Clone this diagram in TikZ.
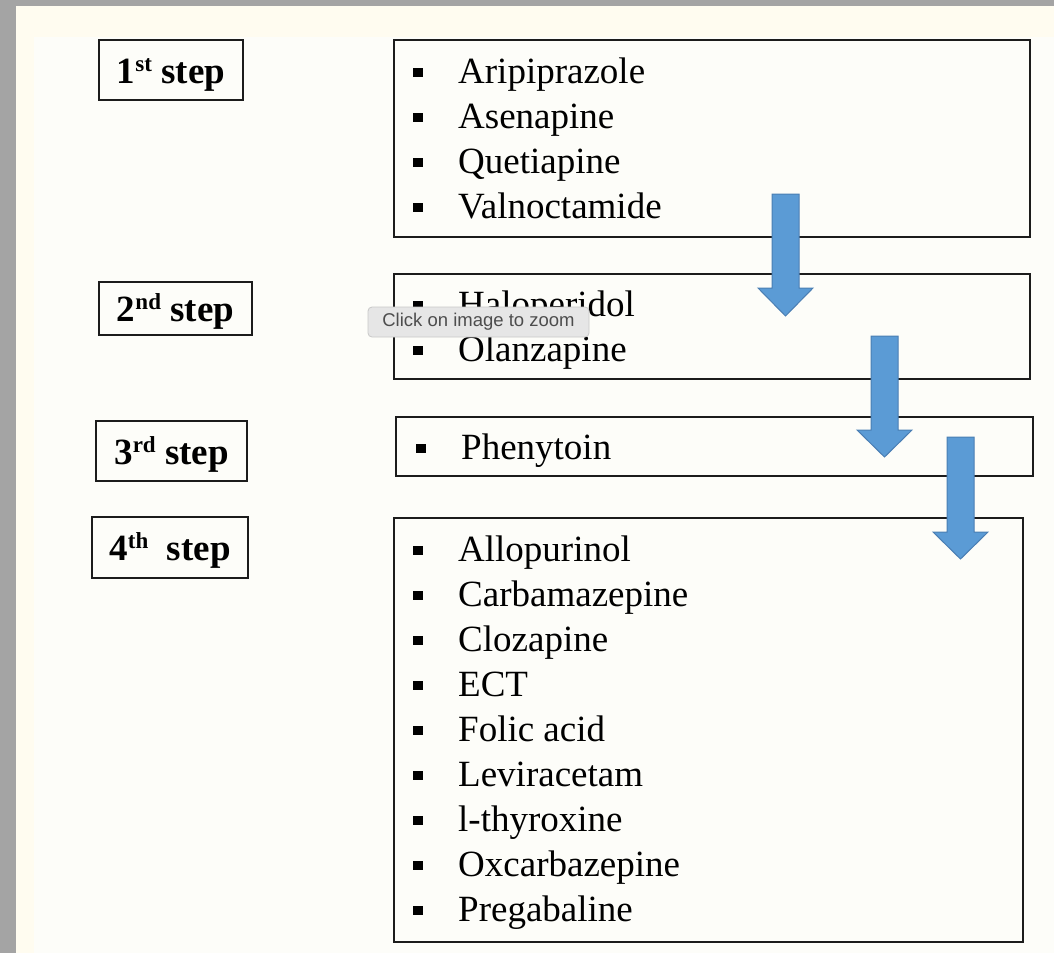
\documentclass[tikz,border=0pt]{standalone}
\usepackage{fontspec}
\setmainfont{Liberation Serif}
\newfontfamily\tipfont{Liberation Sans}

\definecolor{pagegray}{HTML}{A4A4A4}
\definecolor{pagecream}{HTML}{FFFCF0}
\definecolor{pagewhite}{HTML}{FDFDF9}
\definecolor{arrowblue}{HTML}{5B9BD5}
\definecolor{arrowedge}{HTML}{4A7EB3}
\definecolor{boxline}{HTML}{1C1C1C}
\definecolor{tipfill}{HTML}{E6E6E6}
\definecolor{tipline}{HTML}{C8C8C8}
\definecolor{tiptext}{HTML}{4D4D4D}

\newcommand{\ordsup}[1]{\raisebox{12pt}{\fontsize{23}{26}\selectfont #1}}
\newcommand{\bulletitem}[1]{\rlap{\rule[6pt]{10pt}{9pt}}\hspace{45pt}#1}

\tikzset{
  stepbox/.style={draw=boxline, line width=2.8pt, inner sep=0pt, text height=26pt, text depth=0pt,
    font=\fontsize{37}{42}\selectfont\bfseries},
  listbox/.style={draw=boxline, line width=2.8pt, inner sep=0pt},
  item/.style={anchor=base west, inner sep=0pt, font=\fontsize{37}{44}\selectfont},
  blockarrow/.style={fill=arrowblue, draw=arrowedge, line width=1pt, line join=miter},
  tooltip/.style={fill=tipfill, draw=tipline, line width=0.8pt, rounded corners=4pt,
    minimum width=221pt, minimum height=30pt, inner sep=0pt, text=tiptext,
    font=\tipfont\fontsize{18.5}{20}\selectfont}
}

\begin{document}
\begin{tikzpicture}[x=1pt, y=-1pt]
    \useasboundingbox (0, 0) rectangle (1054, 953);

    % Page
    \fill [pagegray] (0, 0) rectangle (1054, 953);
    \fill [pagecream] (16, 6) rectangle (1054, 953);
    \fill [pagewhite] (34, 37) rectangle (1054, 953);

    % Steps
    \node [stepbox, minimum width=144pt, minimum height=60pt] (s1) at (171, 70)
      {1\ordsup{st} step};
    \node [stepbox, minimum width=153pt, minimum height=53pt] (s2) at (175.5, 308.5)
      {2\ordsup{nd} step};
    \node [stepbox, minimum width=151pt, minimum height=60pt] (s3) at (171.5, 451)
      {3\ordsup{rd} step};
    \node [stepbox, minimum width=156pt, minimum height=61pt] (s4) at (170, 547.5)
      {4\ordsup{th}\ \ step};

    % Drug lists
    \node [listbox, minimum width=636pt, minimum height=197pt] (l1) at (712, 138.5) {};
    \node [listbox, minimum width=636pt, minimum height=105pt] (l2) at (712, 326.5) {};
    \node [listbox, minimum width=637pt, minimum height=59pt] (l3) at (714.5, 446.5) {};
    \node [listbox, minimum width=629pt, minimum height=424pt] (l4) at (708.5, 730) {};

    \foreach \drug [count=\i] in {Aripiprazole, Asenapine, Quetiapine, Valnoctamide}
      \node [item] (d1\i) at (413, 38 + 45 * \i) {\bulletitem{\drug}};
    \foreach \drug [count=\i] in {Haloperidol, Olanzapine}
      \node [item] (d2\i) at (413, 271 + 45 * \i) {\bulletitem{\drug}};
    \node [item] (d31) at (416, 459) {\bulletitem{Phenytoin}};
    \foreach \drug [count=\i] in {Allopurinol, Carbamazepine, Clozapine, ECT, Folic acid,
        Leviracetam, l-thyroxine, Oxcarbazepine, Pregabaline}
      \node [item] (d4\i) at (413, 516 + 45 * \i) {\bulletitem{\drug}};

    % Arrows
    \draw [blockarrow] (772, 194) -- ++(27, 0) -- ++(0, 94) -- ++(14, 0) -- ++(-27.5, 28)
      -- ++(-27.5, -28) -- ++(14, 0) -- cycle;
    \draw [blockarrow] (871, 336) -- ++(27, 0) -- ++(0, 94) -- ++(14, 0) -- ++(-27.5, 27)
      -- ++(-27.5, -27) -- ++(14, 0) -- cycle;
    \draw [blockarrow] (947, 437) -- ++(27, 0) -- ++(0, 95) -- ++(14, 0) -- ++(-27.5, 27)
      -- ++(-27.5, -27) -- ++(14, 0) -- cycle;

    % Tooltip
    \node [tooltip] (tip) at (478.5, 322) {Click on image to zoom};
\end{tikzpicture}
\end{document}
